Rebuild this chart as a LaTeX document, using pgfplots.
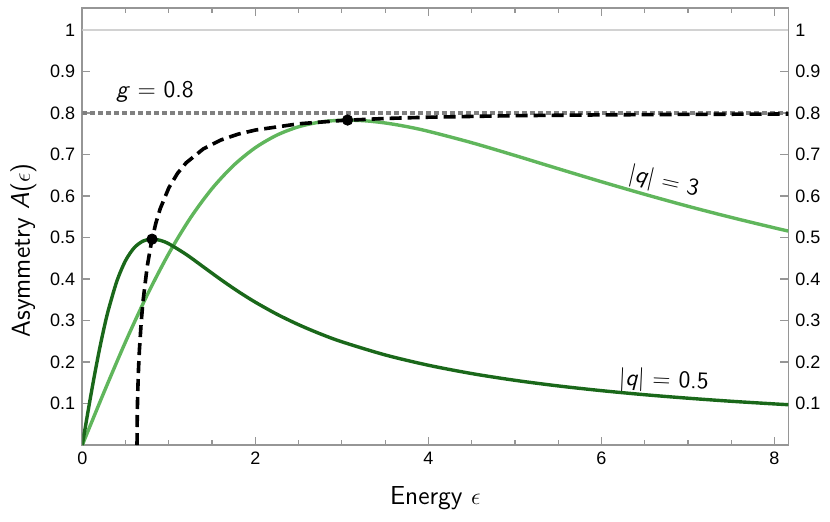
\documentclass[border=0pt]{standalone}
\usepackage{fontspec}
\setmainfont{Liberation Sans}
\usepackage{pgfplots}
\pgfplotsset{compat=1.18}

\definecolor{darkgr}{RGB}{26,104,26}
\definecolor{lightgr}{RGB}{96,182,92}
\definecolor{framegray}{RGB}{150,150,150}

\begin{document}
\begin{tikzpicture}
\pgfplotsset{
  common/.style={
    scale only axis,
    width=353pt, height=218.5pt,
    xmin=0, xmax=8.16,
    ymin=0, ymax=1.053,
    axis line style={framegray, line width=0.8pt},
    tick style={framegray, line width=0.6pt},
    major tick length=4pt,
    minor tick length=2.5pt,
    tick align=inside,
    xtick={0,2,4,6,8},
    minor x tick num=3,
    ytick={0.1,0.2,0.3,0.4,0.5,0.6,0.7,0.8,0.9,1},
    yticklabels={0.1,0.2,0.3,0.4,0.5,0.6,0.7,0.8,0.9,1},
    /pgf/number format/assume math mode=true,
    ticklabel style={font=\fontsize{9}{10}\selectfont},
  },
}
\begin{axis}[
  common,
  yticklabel pos=left,
  xlabel={\fontsize{13}{15}\sffamily Energy $\epsilon$},
  ylabel={\fontsize{13}{15}\sffamily Asymmetry \textsl{A}($\epsilon$)},
  ylabel style={xshift=-12pt},
  xlabel style={yshift=-4pt},
]
% reference lines
\addplot[gray!35, line width=0.6pt] coordinates {(0,1) (8.16,1)};
\addplot[gray, line width=1.6pt, dash pattern=on 2.4pt off 1.6pt] coordinates {(0,0.8) (8.16,0.8)};

% |q| = 3
\addplot[lightgr, line width=1.7pt, smooth] coordinates {
  (0,0) (0.25,0.1268) (0.5,0.2487) (0.75,0.3614) (1.0,0.4615) (1.25,0.5473)
  (1.5,0.6180) (1.75,0.6740) (2.0,0.7164) (2.25,0.7468) (2.5,0.7668)
  (2.75,0.7782) (3.0,0.7826) (3.25,0.7815) (3.5,0.7760) (3.75,0.7672)
  (4.0,0.7559) (4.5,0.7285) (5.0,0.6977) (5.5,0.6658) (6.0,0.6344)
  (6.5,0.6041) (7.0,0.5753) (7.5,0.5484) (8.0,0.5232) (8.16,0.5155)
};

% |q| = 0.5
\addplot[darkgr, line width=1.7pt, smooth] coordinates {
  (0,0) (0.05,0.0613) (0.1,0.1212) (0.15,0.1784) (0.2,0.2319) (0.25,0.2807)
  (0.3,0.3243) (0.4,0.3951) (0.5,0.4444) (0.6,0.4752) (0.7,0.4912)
  (0.8,0.4961) (0.9,0.4932) (1.0,0.4848) (1.2,0.4593) (1.4,0.4291)
  (1.6,0.3988) (1.8,0.3702) (2.0,0.3441) (2.25,0.3151) (2.5,0.2899)
  (2.75,0.2679) (3.0,0.2487) (3.5,0.2171) (4.0,0.1922) (4.5,0.1722)
  (5.0,0.1559) (5.5,0.1424) (6.0,0.1310) (6.5,0.1212) (7.0,0.1128)
  (7.5,0.1054) (8.0,0.0990) (8.16,0.0971)
};

% locus of maxima
\addplot[black, line width=1.8pt, dash pattern=on 6pt off 3pt] coordinates {
  (0.6325,0) (0.635,0.0715) (0.64,0.1225) (0.65,0.1846) (0.66,0.2287)
  (0.68,0.2939) (0.7,0.3429) (0.75,0.4300) (0.8,0.4899) (0.85,0.5345)
  (0.9,0.5692) (1.0,0.6197) (1.1,0.6545) (1.2,0.6799) (1.4,0.7137)
  (1.6,0.7348) (1.8,0.7490) (2.0,0.7589) (2.5,0.7740) (3.0,0.7820)
  (3.5,0.7868) (4.0,0.7899) (5.0,0.7936) (6.0,0.7955) (7.0,0.7967)
  (8.16,0.7976)
};

% maxima
\addplot[only marks, mark=*, mark size=2.6pt, black] coordinates {
  (0.806,0.496) (3.066,0.783)
};

\node[font=\fontsize{12}{14}\sffamily] at (axis cs:0.84,0.85) {\textsl{g} $=$ 0.8};
\node[font=\fontsize{12}{14}\sffamily, rotate=-13] at (axis cs:6.72,0.633) {$|$\textsl{q}$|$ $=$ 3};
\node[font=\fontsize{12}{14}\sffamily, rotate=-2.5] at (axis cs:6.72,0.154) {$|$\textsl{q}$|$ $=$ 0.5};

\path (rel axis cs:0,0) coordinate (sw) (rel axis cs:1,1) coordinate (ne);
\end{axis}
\begin{axis}[
  common,
  hide x axis,
  axis line style={draw=none},
  tick style={draw=none},
  yticklabel pos=right,
]
\end{axis}
\pgfresetboundingbox
\path[use as bounding box] ([shift={(-41.15pt,-38pt)}]sw) rectangle ([shift={(20.85pt,4pt)}]ne);
\end{tikzpicture}
\end{document}
